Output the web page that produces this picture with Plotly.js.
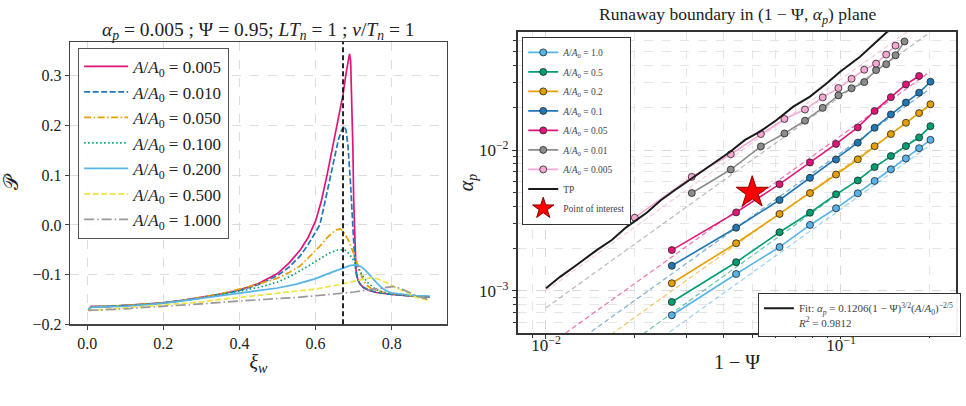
<!DOCTYPE html>
<html><head><meta charset="utf-8">
<script src="https://cdn.plot.ly/plotly-3.0.1.min.js"></script>
<style>html,body{margin:0;padding:0;background:#fff}</style>
</head><body><div id="chart" style="width:966px;height:406px"></div>
<script>
// ---------- Left panel data: P(xi_w) for several A/A0 ----------
const xiJ = 0.672; // vertical dashed reference
const labelsLeft = ['0.005','0.010','0.050','0.100','0.200','0.500','1.000'];
const xi_a005 = [0.003,0.01,0.03,0.06,0.1,0.15,0.2,0.25,0.3,0.35,0.4,0.45,0.5,0.53,0.56,0.58,0.6,0.615,0.63,0.645,0.66,0.672,0.68,0.686,0.689,0.692,0.695,0.698,0.700,0.703,0.706,0.710,0.716,0.725,0.74,0.76,0.8,0.85,0.9];
const P_a005  = [-0.171,-0.164,-0.164,-0.164,-0.162,-0.160,-0.157,-0.152,-0.146,-0.139,-0.131,-0.118,-0.098,-0.077,-0.050,-0.026,0.008,0.048,0.100,0.158,0.213,0.262,0.305,0.335,0.344,0.330,0.26,0.15,0.05,-0.05,-0.09,-0.108,-0.118,-0.126,-0.132,-0.136,-0.140,-0.143,-0.145];
const xi_a010 = [0.003,0.01,0.03,0.06,0.1,0.15,0.2,0.25,0.3,0.35,0.4,0.45,0.5,0.53,0.56,0.58,0.6,0.611,0.62,0.63,0.64,0.65,0.66,0.668,0.675,0.68,0.685,0.691,0.695,0.699,0.703,0.707,0.712,0.72,0.74,0.76,0.8,0.85,0.9];
const P_a010  = [-0.171,-0.165,-0.165,-0.164,-0.163,-0.160,-0.157,-0.152,-0.147,-0.140,-0.132,-0.120,-0.102,-0.085,-0.062,-0.040,-0.015,0.0,0.030,0.065,0.105,0.140,0.172,0.190,0.199,0.19,0.159,0.092,0.03,-0.03,-0.075,-0.100,-0.112,-0.123,-0.131,-0.136,-0.140,-0.143,-0.145];
const xi_a050 = [0.003,0.01,0.03,0.06,0.1,0.15,0.2,0.25,0.3,0.35,0.4,0.45,0.5,0.53,0.56,0.59,0.61,0.63,0.645,0.655,0.664,0.672,0.68,0.689,0.702,0.716,0.724,0.735,0.75,0.78,0.82,0.86,0.9];
const P_a050  = [-0.171,-0.165,-0.164,-0.164,-0.162,-0.160,-0.157,-0.152,-0.146,-0.139,-0.129,-0.119,-0.107,-0.096,-0.082,-0.060,-0.044,-0.026,-0.015,-0.010,-0.008,-0.012,-0.022,-0.035,-0.062,-0.093,-0.109,-0.122,-0.130,-0.136,-0.140,-0.143,-0.145];
const xi_a100 = [0.003,0.01,0.03,0.06,0.1,0.15,0.2,0.25,0.3,0.35,0.4,0.45,0.5,0.54,0.58,0.61,0.635,0.655,0.668,0.678,0.688,0.698,0.708,0.716,0.724,0.735,0.746,0.757,0.768,0.785,0.82,0.86,0.9];
const P_a100  = [-0.171,-0.165,-0.164,-0.164,-0.163,-0.160,-0.157,-0.152,-0.147,-0.140,-0.133,-0.126,-0.115,-0.101,-0.083,-0.068,-0.057,-0.051,-0.050,-0.051,-0.058,-0.069,-0.083,-0.094,-0.103,-0.115,-0.123,-0.129,-0.133,-0.137,-0.140,-0.143,-0.145];
const xi_a200 = [0.003,0.01,0.03,0.06,0.1,0.15,0.2,0.25,0.3,0.35,0.4,0.45,0.5,0.55,0.6,0.64,0.67,0.69,0.707,0.72,0.733,0.746,0.76,0.773,0.786,0.80,0.83,0.86,0.9];
const P_a200  = [-0.171,-0.166,-0.165,-0.165,-0.164,-0.161,-0.158,-0.153,-0.148,-0.143,-0.138,-0.133,-0.127,-0.119,-0.108,-0.096,-0.087,-0.082,-0.080,-0.084,-0.093,-0.105,-0.116,-0.126,-0.133,-0.137,-0.140,-0.142,-0.143];
const xi_a500 = [0.003,0.05,0.1,0.15,0.2,0.25,0.3,0.35,0.4,0.45,0.5,0.55,0.6,0.65,0.7,0.73,0.746,0.76,0.786,0.80,0.821,0.845,0.865,0.9];
const P_a500  = [-0.172,-0.170,-0.167,-0.164,-0.161,-0.158,-0.155,-0.150,-0.146,-0.142,-0.138,-0.134,-0.129,-0.122,-0.114,-0.108,-0.106,-0.108,-0.116,-0.122,-0.130,-0.140,-0.146,-0.152];
const xi_a1000 = [0.003,0.05,0.1,0.15,0.2,0.25,0.3,0.35,0.4,0.45,0.5,0.55,0.6,0.65,0.7,0.75,0.78,0.803,0.82,0.847,0.87,0.9];
const P_a1000  = [-0.172,-0.171,-0.169,-0.166,-0.164,-0.161,-0.159,-0.156,-0.153,-0.150,-0.148,-0.146,-0.143,-0.139,-0.135,-0.130,-0.126,-0.124,-0.127,-0.136,-0.144,-0.151];

// ---------- Right panel data: runaway boundary ----------
const psiMain = [0.0267,0.0441,0.0619,0.0785,0.0962,0.114,0.130,0.1476,0.166,0.184,0.201];
const alpha_A1    = [0.000673,0.00132,0.00205,0.00294,0.00386,0.00493,0.00603,0.00730,0.00871,0.0103,0.0118];
const alpha_A05   = [0.000836,0.00160,0.00261,0.00359,0.00485,0.00608,0.00757,0.00906,0.01066,0.01228,0.01476];
const alpha_A02   = [0.001135,0.00218,0.00352,0.00495,0.00670,0.00859,0.01064,0.01297,0.0156,0.01827,0.0211];
const alpha_A01   = [0.00151,0.00281,0.00442,0.00635,0.00857,0.01127,0.01436,0.01787,0.0217,0.0255,0.0305];
const psi_A005 = [0.0267,0.0441,0.0619,0.0785,0.0962,0.114,0.130,0.1476,0.166,0.184];
const alpha_A005  = [0.00195,0.00361,0.00572,0.00815,0.01104,0.01446,0.01892,0.0237,0.0292,0.0335];
const psi_A001 = [0.0312,0.0423,0.0535,0.0643,0.0755,0.0867,0.0980,0.1086,0.1199,0.1315,0.1423,0.1531,0.1641];
const alpha_A001  = [0.00495,0.00727,0.0106,0.0131,0.01614,0.0199,0.0244,0.0274,0.0303,0.0369,0.0406,0.0470,0.0589];
const psi_A0005 = [0.0200,0.0312,0.0423,0.0535,0.0643,0.0755,0.0867,0.0980,0.1086,0.1199,0.1315,0.1423,0.1531];
const alpha_A0005 = [0.00331,0.00645,0.00933,0.01297,0.0166,0.01936,0.0236,0.0275,0.0320,0.0371,0.0410,0.0475,0.0550];
const psiTP   = [0.0100,0.01116,0.0127,0.01486,0.01671,0.01879,0.0220,0.0245,0.0270,0.0295,0.0316,0.0345,0.0369,0.0421,0.0473,0.0531,0.0605,0.0689,0.0785,0.0895,0.0993,0.116,0.1429,0.16];
const alphaTP = [0.001045,0.00126,0.00153,0.00195,0.00230,0.00285,0.00360,0.00440,0.00510,0.00580,0.00647,0.00735,0.00813,0.00972,0.0118,0.01349,0.01633,0.0203,0.0239,0.0297,0.0359,0.0459,0.0684,0.081];
// dashed fit lines (end points)
const fitPsi = [0.01, 0.2];
const fit_A1    = [0.0001206, 0.01079];
const fit_A05   = [0.0001591, 0.01424];
const fit_A02   = [0.0002296, 0.02054];
const fit_A01   = [0.0003029, 0.02710];
const fit_A005  = [0.0003997, 0.03577];
const fit_A001  = [0.0007609, 0.0681];
const fit_A0005 = [0.001004, 0.0898];
const poiPsi = [0.05], poiAlpha = [0.005];
const labelsRight = ['1.0','0.5','0.2','0.1','0.05','0.01','0.005'];

const FONT = 'Liberation Serif, DejaVu Serif, serif';
const AA0 = '<i>A</i>/<i>A</i><sub>0</sub>';
const traces = [];

// Left traces
const leftSpecs = [
  [xi_a005, P_a005, '#e0157a', 'solid'],
  [xi_a010, P_a010, '#1f77b4', '6px,2.5px'],
  [xi_a050, P_a050, '#e69f00', '7px,2.5px,1.5px,2.5px'],
  [xi_a100, P_a100, '#009e73', '1.5px,2.5px'],
  [xi_a200, P_a200, '#56b4e9', 'solid'],
  [xi_a500, P_a500, '#f0e442', '6px,2.5px'],
  [xi_a1000, P_a1000, '#999999', '10px,3px,1.5px,3px'],
];
leftSpecs.forEach((s, i) => {
  traces.push({x: s[0], y: s[1], type: 'scatter', mode: 'lines', xaxis: 'x', yaxis: 'y',
    name: AA0 + ' = ' + labelsLeft[i], legend: 'legend', legendgroup: 'L' + i,
    line: {color: s[2], width: 1.7, dash: s[3]}});
});

// Right traces: fits (dashed, no legend)
const rightColors = ['#56b4e9','#009e73','#e69f00','#1f77b4','#e0157a','#8c8c8c','#f5a8d4'];
const fits = [fit_A1, fit_A05, fit_A02, fit_A01, fit_A005, fit_A001, fit_A0005];
fits.forEach((f, i) => {
  traces.push({x: fitPsi, y: f, type: 'scatter', mode: 'lines', xaxis: 'x2', yaxis: 'y2',
    showlegend: false, hoverinfo: 'skip', opacity: 0.6,
    line: {color: rightColors[i], width: 1.2, dash: '5px,3px'}});
});
const rx = [psiMain, psiMain, psiMain, psiMain, psi_A005, psi_A001, psi_A0005];
const ry = [alpha_A1, alpha_A05, alpha_A02, alpha_A01, alpha_A005, alpha_A001, alpha_A0005];
rx.forEach((xx, i) => {
  traces.push({x: xx, y: ry[i], type: 'scatter', mode: 'lines+markers', xaxis: 'x2', yaxis: 'y2',
    name: AA0 + ' = ' + labelsRight[i], legend: 'legend2', legendgroup: 'R' + i,
    line: {color: rightColors[i], width: 1.6},
    marker: {color: rightColors[i], size: 7, line: {color: '#222', width: 0.8}}});
});
traces.push({x: psiTP, y: alphaTP, type: 'scatter', mode: 'lines', xaxis: 'x2', yaxis: 'y2',
  name: 'TP', legend: 'legend2', legendgroup: 'R7', line: {color: '#1a1a1a', width: 2}});
traces.push({x: poiPsi, y: poiAlpha, type: 'scatter', mode: 'markers', xaxis: 'x2', yaxis: 'y2',
  name: 'Point of interest', legend: 'legend2', legendgroup: 'R8',
  marker: {symbol: 'star', size: 24, color: '#ff0000', line: {color: '#8b0000', width: 1}}});
// fit legend entry
traces.push({x: [null], y: [null], type: 'scatter', mode: 'lines', xaxis: 'x2', yaxis: 'y2',
  name: 'Fit: <i>α</i><sub><i>p</i></sub> = 0.1206(1 − Ψ)<sup>3/2</sup>(' + AA0 + ')<sup>−2/5</sup><br><i>R</i><sup>2</sup> = 0.9812',
  legend: 'legend3', line: {color: '#1a1a1a', width: 2}});

const gridC = '#d4d4d4';
const layout = {
  width: 966, height: 406, margin: {l: 0, r: 0, t: 0, b: 0},
  paper_bgcolor: '#fff', plot_bgcolor: '#fff',
  font: {family: FONT, color: '#222'},
  showlegend: true,
  xaxis: {domain: [0.0725, 0.4627], range: [-0.045, 0.945], anchor: 'y',
    tickvals: [0, 0.2, 0.4, 0.6, 0.8], tickformat: '.1f', ticks: 'outside', ticklen: 4, tickcolor: '#444',
    showline: true, mirror: true, linecolor: '#444', linewidth: 1.3, zeroline: false,
    showgrid: true, gridcolor: gridC, griddash: 'dash', gridwidth: 0.8,
    tickfont: {size: 16, family: FONT},
    title: {text: '<i>ξ</i><sub><i>w</i></sub>', font: {size: 20, family: FONT}, standoff: 4}},
  yaxis: {domain: [0.2012, 0.8966], range: [-0.2, 0.368], anchor: 'x',
    tickvals: [-0.2, -0.1, 0, 0.1, 0.2, 0.3], tickformat: '.1f', ticks: 'outside', ticklen: 4, tickcolor: '#444',
    showline: true, mirror: true, linecolor: '#444', linewidth: 1.3, zeroline: false,
    showgrid: true, gridcolor: gridC, griddash: 'dash', gridwidth: 0.8,
    tickfont: {size: 16, family: FONT},
    title: {text: '𝒫', font: {size: 20, family: FONT}, standoff: 20}},
  xaxis2: {type: 'log', domain: [0.5362, 0.9897], range: [-2.095, -0.610], anchor: 'y2',
    tickmode: 'array', tickvals: [0.01, 0.1], ticktext: ['10<sup>−2</sup>', '10<sup>−1</sup>'],
    ticks: 'outside', ticklen: 4, tickcolor: '#333', ticklabelstandoff: -8,
    minor: {tickmode: 'array', tickvals: [0.009,0.02,0.03,0.04,0.05,0.06,0.07,0.08,0.09,0.2],
      ticks: 'outside', ticklen: 2.5, tickcolor: '#333', showgrid: true, gridcolor: '#dedede', griddash: 'dash', gridwidth: 0.8},
    showline: true, mirror: true, linecolor: '#333', linewidth: 2, zeroline: false,
    showgrid: true, gridcolor: gridC, griddash: 'dash', gridwidth: 0.9,
    tickfont: {size: 17, family: FONT},
    title: {text: '1 − Ψ', font: {size: 20, family: FONT}, standoff: 1}},
  yaxis2: {type: 'log', domain: [0.1798, 0.9212], range: [-3.298, -1.163], anchor: 'x2',
    tickmode: 'array', tickvals: [0.001, 0.01], ticktext: ['10<sup>−3</sup>', '10<sup>−2</sup>'],
    ticks: 'outside', ticklen: 4, tickcolor: '#333',
    minor: {tickmode: 'array', tickvals: [0.0006,0.0007,0.0008,0.0009,0.002,0.003,0.004,0.005,0.006,0.007,0.008,0.009,0.02,0.03,0.04,0.05,0.06],
      ticks: 'outside', ticklen: 2.5, tickcolor: '#333', showgrid: true, gridcolor: '#dedede', griddash: 'dash', gridwidth: 0.8},
    showline: true, mirror: true, linecolor: '#333', linewidth: 2, zeroline: false,
    showgrid: true, gridcolor: gridC, griddash: 'dash', gridwidth: 0.9,
    tickfont: {size: 17, family: FONT},
    title: {text: '<i>α</i><sub><i>p</i></sub>', font: {size: 20, family: FONT}, standoff: 0}},
  legend: {x: 0.0807, y: 0.8825, xanchor: 'left', yanchor: 'top', bgcolor: 'rgba(255,255,255,0.9)',
    bordercolor: '#555', borderwidth: 1.2, font: {size: 17, family: FONT}, itemwidth: 44,
    traceorder: 'grouped', tracegroupgap: 0.4},
  legend2: {x: 0.5404, y: 0.9096, xanchor: 'left', yanchor: 'top', bgcolor: 'rgba(255,255,255,0.95)',
    bordercolor: '#333', borderwidth: 1.2, font: {size: 9.5, family: FONT, color: '#444'}, traceorder: 'grouped', tracegroupgap: 0.5},
  legend3: {x: 0.7844, y: 0.2776, xanchor: 'left', yanchor: 'top', bgcolor: 'rgba(255,255,255,0.95)',
    bordercolor: '#333', borderwidth: 1.2, font: {size: 11, family: FONT, color: '#444'}, valign: 'top'},
  shapes: [{type: 'line', xref: 'x', yref: 'y domain', x0: xiJ, x1: xiJ, y0: 0, y1: 1,
    line: {color: '#111', width: 1.8, dash: '5px,3px'}}],
  annotations: [
    {xref: 'paper', yref: 'paper', x: 0.2676, y: 1 - 31/406, xanchor: 'center', yanchor: 'middle', showarrow: false,
     text: '<i>α</i><sub><i>p</i></sub> = 0.005 ; Ψ = 0.95; <i>LT</i><sub><i>n</i></sub> = 1 ; <i>v</i>/<i>T</i><sub><i>n</i></sub> = 1',
     font: {size: 19.5, family: FONT, color: '#222'}},
    {xref: 'paper', yref: 'paper', x: 0.763, y: 1 - 15/406, xanchor: 'center', yanchor: 'middle', showarrow: false,
     text: 'Runaway boundary in (1 − Ψ, <i>α</i><sub><i>p</i></sub>) plane',
     font: {size: 17.5, family: FONT, color: '#222'}}
  ]
};
Plotly.newPlot('chart', traces, layout, {displayModeBar: false, staticPlot: true});
</script></body></html>
